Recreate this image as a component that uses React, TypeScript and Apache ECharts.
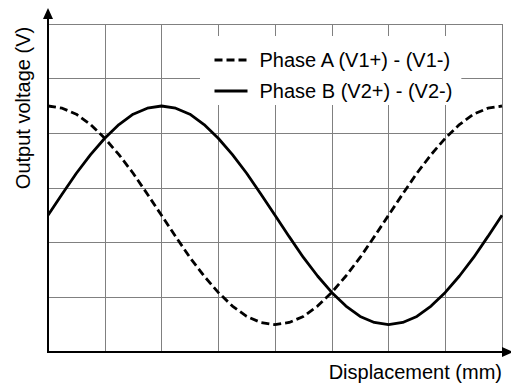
import React, { useEffect, useRef } from "react";
import * as echarts from "echarts";

// Displacement positions (grid units) sampled along the curves
const displacement = [
  0, 0.25, 0.5, 0.75, 1, 1.25, 1.5, 1.75, 2, 2.25, 2.5, 2.75, 3, 3.25, 3.5, 3.75, 4,
  4.25, 4.5, 4.75, 5, 5.25, 5.5, 5.75, 6, 6.25, 6.5, 6.75, 7, 7.25, 7.5, 7.75, 8,
];
// Phase A (V1+) - (V1-)
const phaseA = [
  4.5, 4.46, 4.35, 4.16, 3.91, 3.61, 3.27, 2.89, 2.5, 2.11, 1.73, 1.39, 1.09, 0.84, 0.65, 0.54, 0.5,
  0.54, 0.65, 0.84, 1.09, 1.39, 1.73, 2.11, 2.5, 2.89, 3.27, 3.61, 3.91, 4.16, 4.35, 4.46, 4.5,
];
// Phase B (V2+) - (V2-)
const phaseB = [
  2.5, 2.89, 3.27, 3.61, 3.91, 4.16, 4.35, 4.46, 4.5, 4.46, 4.35, 4.16, 3.91, 3.61, 3.27, 2.89, 2.5,
  2.11, 1.73, 1.39, 1.09, 0.84, 0.65, 0.54, 0.5, 0.54, 0.65, 0.84, 1.09, 1.39, 1.73, 2.11, 2.5,
];

const seriesNames = ["Phase A (V1+) - (V1-)", "Phase B (V2+) - (V2-)"];
const xTitle = "Displacement (mm)";
const yTitle = "Output voltage (V)";

const FONT = "'Liberation Sans', Arial, sans-serif";

export default function App() {
  const ref = useRef<HTMLDivElement>(null);

  useEffect(() => {
    if (!ref.current) return;
    const chart = echarts.init(ref.current, undefined, { renderer: "svg" });
    const gridColor = "#808080";
    const option: any = {
      animation: false,
      backgroundColor: "#ffffff",
      grid: { left: 48, right: 9, top: 24, bottom: 33, containLabel: false },
      xAxis: {
        type: "value",
        min: 0,
        max: 8,
        interval: 1,
        axisLine: { show: false },
        axisTick: { show: false },
        axisLabel: { show: false },
        splitLine: { show: true, lineStyle: { color: gridColor, width: 1 } },
      },
      yAxis: {
        type: "value",
        min: 0,
        max: 6,
        interval: 1,
        axisLine: { show: false },
        axisTick: { show: false },
        axisLabel: { show: false },
        splitLine: { show: true, lineStyle: { color: gridColor, width: 1 } },
      },
      legend: {
        orient: "vertical",
        left: 200,
        top: 36,
        backgroundColor: "#ffffff",
        padding: [13, 9, 3, 13],
        itemWidth: 33,
        itemHeight: 14,
        itemGap: 9,
        itemStyle: { opacity: 0 },
        lineStyle: { width: 3 },
        textStyle: {
          fontSize: 20,
          fontFamily: FONT,
          color: "#000",
          lineHeight: 22,
          padding: [0, 0, 0, 7],
        },
        data: seriesNames,
        selectedMode: false,
      },
      series: [
        {
          name: seriesNames[0],
          type: "line",
          smooth: false,
          symbol: "none",
          data: displacement.map((x, i) => [x, phaseA[i]]),
          lineStyle: { color: "#000", width: 2.8, type: [8, 4] },
          itemStyle: { color: "#000" },
          z: 3,
        },
        {
          name: seriesNames[1],
          type: "line",
          smooth: false,
          symbol: "none",
          data: displacement.map((x, i) => [x, phaseB[i]]),
          lineStyle: { color: "#000", width: 2.8, type: "solid" },
          itemStyle: { color: "#000" },
          z: 3,
        },
      ],
      graphic: [
        // y axis line with arrow
        { type: "line", z: 10, shape: { x1: 48, y1: 353, x2: 48, y2: 16 }, style: { stroke: "#000", lineWidth: 2 } },
        { type: "polygon", z: 10, shape: { points: [[48, 8], [43, 19], [53, 19]] }, style: { fill: "#000" } },
        // x axis line with arrow
        { type: "line", z: 10, shape: { x1: 47, y1: 352, x2: 504, y2: 352 }, style: { stroke: "#000", lineWidth: 2 } },
        { type: "polygon", z: 10, shape: { points: [[513, 352], [502, 347], [502, 357]] }, style: { fill: "#000" } },
        // axis titles
        {
          type: "text",
          z: 10,
          x: 502,
          y: 372,
          style: { text: xTitle, font: `20px ${FONT}`, fill: "#000", align: "right", verticalAlign: "middle" },
        },
        {
          type: "text",
          z: 10,
          x: 23,
          y: 108,
          rotation: Math.PI / 2,
          style: { text: yTitle, font: `20px ${FONT}`, fill: "#000", align: "center", verticalAlign: "middle" },
        },
      ],
    };
    chart.setOption(option);
    return () => chart.dispose();
  }, []);

  return <div ref={ref} style={{ position: "fixed", left: 0, top: 0, width: 511, height: 385 }} />;
}
